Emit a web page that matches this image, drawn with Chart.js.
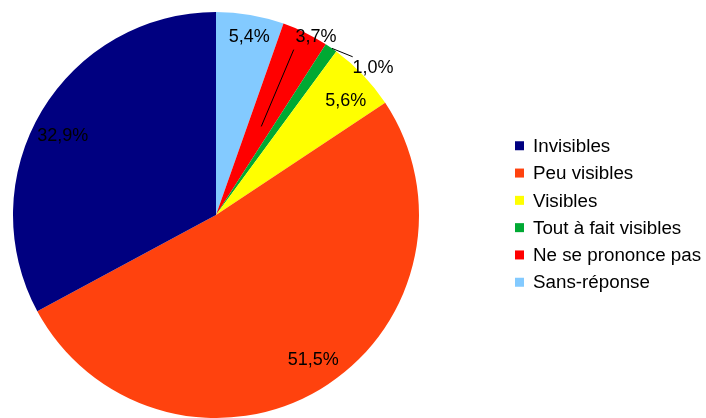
<!DOCTYPE html>
<html>
<head>
<meta charset="utf-8">
<script src="https://cdn.jsdelivr.net/npm/chart.js@4"></script>
<style>
html,body{margin:0;padding:0;background:#fff;}
#wrap{width:706px;height:418px;position:relative;overflow:hidden;}
</style>
</head>
<body>
<div id="wrap"><canvas id="c" width="706" height="418"></canvas></div>
<script>
const categories = ["Invisibles", "Peu visibles", "Visibles", "Tout à fait visibles", "Ne se prononce pas", "Sans-réponse"];
const values = [32.9, 51.5, 5.6, 1.0, 3.7, 5.4];
const valueLabels = ["32,9%", "51,5%", "5,6%", "1,0%", "3,7%", "5,4%"];
const colors = ["#000080", "#ff420e", "#ffff00", "#00a933", "#ff0000", "#83caff"];

// label layout per category: radial factor, angle offset (deg), optional leader line
const labelLayout = [
  {r: 0.85, da: -3.5},
  {r: 0.86, da: -2.9},
  {r: 0.85, da: 2.4},
  {r: 1.06, da: 12.3, line: {r1: 1.0, a1: 0.3, r2: 1.03, a2: 6.3}},
  {r: 1.005, da: 3.3, line: {r1: 0.9, a1: -0.9, r2: 0.49, a2: 1.0}},
  {r: 0.89, da: 0.9}
];

// Chart.js draws clockwise; the reference runs counter-clockwise from the top
const order = categories.map((_, i) => i).reverse();

const LABEL_FONT = '18px "Liberation Sans", Arial, sans-serif';
const LEGEND_FONT = '18.8px "Liberation Sans", Arial, sans-serif';

const labelPlugin = {
  id: 'sliceLabels',
  afterDatasetsDraw(chart) {
    const ctx = chart.ctx;
    const meta = chart.getDatasetMeta(0);
    ctx.save();
    ctx.font = LABEL_FONT;
    ctx.fillStyle = '#000';
    ctx.strokeStyle = '#000';
    ctx.lineWidth = 1;
    ctx.textAlign = 'center';
    ctx.textBaseline = 'middle';
    meta.data.forEach((arc, j) => {
      const i = order[j];
      const p = arc.getProps(['x', 'y', 'startAngle', 'endAngle', 'outerRadius'], true);
      const mid = (p.startAngle + p.endAngle) / 2;
      const L = labelLayout[i];
      if (L.line) {
        const a1 = mid + L.line.a1 * Math.PI / 180, a2 = mid + L.line.a2 * Math.PI / 180;
        ctx.beginPath();
        ctx.moveTo(p.x + Math.cos(a1) * p.outerRadius * L.line.r1, p.y + Math.sin(a1) * p.outerRadius * L.line.r1);
        ctx.lineTo(p.x + Math.cos(a2) * p.outerRadius * L.line.r2, p.y + Math.sin(a2) * p.outerRadius * L.line.r2);
        ctx.stroke();
      }
      const a = mid + L.da * Math.PI / 180;
      const rr = p.outerRadius * L.r;
      ctx.fillText(valueLabels[i], p.x + Math.cos(a) * rr, p.y + Math.sin(a) * rr);
    });
    ctx.restore();
  }
};

const legendPlugin = {
  id: 'sideLegend',
  afterDraw(chart) {
    const ctx = chart.ctx;
    const area = chart.chartArea;
    ctx.save();
    ctx.font = LEGEND_FONT;
    ctx.textAlign = 'left';
    ctx.textBaseline = 'middle';
    const x0 = area.right + 95;
    const step = 27.3;
    const yc = 214;
    const y0 = yc - step * (categories.length - 1) / 2;
    categories.forEach((c, i) => {
      const y = y0 + i * step;
      ctx.fillStyle = colors[i];
      ctx.fillRect(x0, y - 4.5, 9, 9);
      ctx.fillStyle = '#000';
      ctx.fillText(c, x0 + 18, y + 1);
    });
    ctx.restore();
  }
};

new Chart(document.getElementById('c'), {
  type: 'pie',
  data: {
    labels: order.map(i => categories[i]),
    datasets: [{
      data: order.map(i => values[i]),
      backgroundColor: order.map(i => colors[i]),
      borderWidth: 0
    }]
  },
  options: {
    responsive: false,
    animation: false,
    layout: {padding: {left: 12, top: 12, right: 286, bottom: -2}},
    plugins: {legend: {display: false}, tooltip: {enabled: false}}
  },
  plugins: [labelPlugin, legendPlugin]
});
</script>
</body>
</html>
